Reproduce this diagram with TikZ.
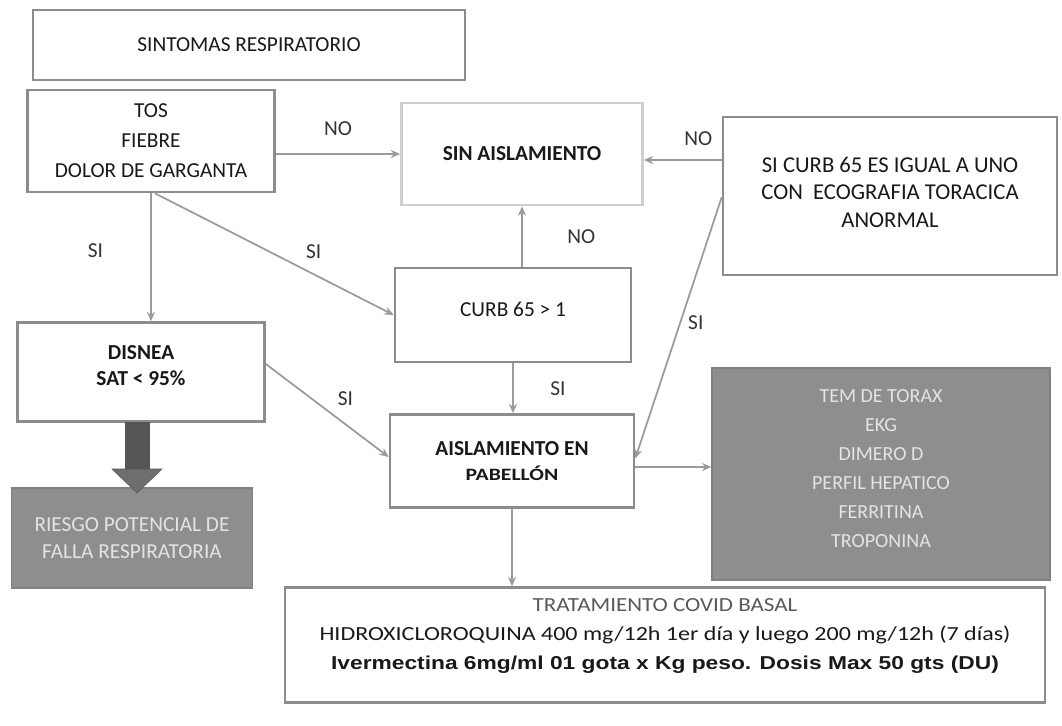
\documentclass[tikz,border=0pt]{standalone}
\usepackage{fontspec}
\setmainfont{Carlito}
\newfontfamily\arialfont{Liberation Sans}
\usetikzlibrary{arrows.meta,positioning}
\definecolor{bordegris}{HTML}{8C8C8C}
\definecolor{bordeclaro}{HTML}{CFCFCF}
\definecolor{rellenogris}{HTML}{8E8E8E}
\definecolor{textoclaro}{HTML}{E4E4E4}
\definecolor{lineagris}{HTML}{9A9A9A}
\definecolor{flechaosc}{HTML}{555555}
\begin{document}
\begin{tikzpicture}[x=0.75pt,y=-0.75pt,
    caja/.style={draw=bordegris,line width=2pt,fill=white,align=center,inner sep=0pt,
        text=black!90,font=\fontsize{16}{22.5}\selectfont},
    cajagris/.style={fill=rellenogris,draw=rellenogris!90!black,line width=1pt,align=center,
        inner sep=0pt,text=textoclaro,font=\fontsize{15}{21.75}\selectfont},
    flecha/.style={color=lineagris,line width=1.3pt,-{Stealth[length=7pt,width=6pt]}},
    etiqueta/.style={font=\fontsize{16}{20}\selectfont,text=black!80}]
\useasboundingbox (0,0) rectangle (1062,725);
% cajas
\node[caja,minimum width={432*0.75pt},minimum height={70*0.75pt}] (Titulo) at (249,45) {SINTOMAS RESPIRATORIO};
\node[caja,minimum width={247*0.75pt},minimum height={102*0.75pt}] (Tos) at (151,141) {TOS\\FIEBRE\\DOLOR DE GARGANTA};
\node[caja,draw=bordeclaro,minimum width={241*0.75pt},minimum height={102*0.75pt},font=\fontsize{16}{22}\selectfont\bfseries] (Sin) at (522,154) {SIN AISLAMIENTO};
\node[caja,minimum width={334*0.75pt},minimum height={158*0.75pt},font=\fontsize{17}{20.6}\selectfont] (SiCurb) at (890,196) {SI CURB 65 ES IGUAL A UNO\\CON\ \ ECOGRAFIA TORACICA\\ANORMAL\rule[-6pt]{0pt}{1pt}};
\node[caja,minimum width={236*0.75pt},minimum height={94*0.75pt}] (Curb) at (513,315) {CURB 65 > 1\rule[-8pt]{0pt}{1pt}};
\node[caja,minimum width={247*0.75pt},minimum height={99*0.75pt},font=\fontsize{16}{19}\selectfont\bfseries] (Disnea) at (141,372) {DISNEA\\SAT < 95\%\rule[-10pt]{0pt}{1pt}};
\node[cajagris,font=\fontsize{16}{20}\selectfont,minimum width={241*0.75pt},minimum height={100*0.75pt}] (Riesgo) at (132,538) {RIESGO POTENCIAL DE\\FALLA RESPIRATORIA};
\node[caja,minimum width={244*0.75pt},minimum height={93*0.75pt},font=\fontsize{16}{19}\selectfont\bfseries] (Aisl) at (512,461) {AISLAMIENTO EN\\{\fontsize{13}{19}\selectfont\scalebox{1.25}[1]{PABELLÓN}}};
\node[cajagris,minimum width={338*0.75pt},minimum height={212*0.75pt}] (Examenes) at (881,474) {TEM DE TORAX\\EKG\\DIMERO D\\PERFIL HEPATICO\\FERRITINA\\TROPONINA\rule[-8pt]{0pt}{1pt}};
\node[caja,minimum width={760*0.75pt},minimum height={115*0.75pt},font=\fontsize{15}{21.75}\selectfont] (Trat) at (665,645) {{\color{black!65}\scalebox{1.15}[1]{TRATAMIENTO COVID BASAL}}\\\scalebox{1.2}[1]{HIDROXICLOROQUINA 400 mg/12h 1er día y luego 200 mg/12h (7 días)}\\{\arialfont\bfseries\fontsize{14}{21.75}\selectfont\scalebox{1.22}[1]{Ivermectina 6mg/ml 01 gota x Kg peso. Dosis Max 50 gts (DU)}}\rule[-17pt]{0pt}{1pt}};
% flecha gruesa
\fill[flechaosc] (125,422) rectangle (150,470);
\filldraw[fill=flechaosc!85!white,draw=flechaosc] (112,469) -- (162,469) -- (137,493) -- cycle;
% conectores
\path[flecha] (Tos.east |- Sin.west) edge node[etiqueta,above=10pt] {NO} (Sin.west);
\path[flecha] (Tos.south) edge node[etiqueta,left=32pt,pos=0.45] {SI} (Tos.south |- Disnea.north);
\path[flecha] ([xshift=3pt]Tos.south) edge node[etiqueta,above right=2pt and 2pt,pos=0.6] {SI} (Curb.west);
\path[flecha] (Sin.south |- Curb.north) edge node[etiqueta,right=30pt] {NO} (Sin.south);
\path[flecha] ([yshift=-4.5pt]SiCurb.west |- Sin.east) edge node[etiqueta,above=7pt,pos=0.3] {NO} ([yshift=-4.5pt]Sin.east);
\path[flecha] (Curb.south) edge node[etiqueta,right=24pt] {SI} (Curb.south |- Aisl.north);
\path[flecha] ([yshift=6pt]Disnea.east) edge node[etiqueta,above right=0pt and 4pt] {SI} ([yshift=3pt]Aisl.west);
\path[flecha] ([yshift=-1pt]SiCurb.west) edge node[etiqueta,right=2pt,pos=0.48] {SI} ([yshift=2pt]Aisl.east);
\path[flecha] ([yshift=-4.5pt]Aisl.east) edge ([yshift=-4.5pt]Aisl.east -| Examenes.west);
\path[flecha] (Aisl.south) edge (Aisl.south |- Trat.north);
\end{tikzpicture}
\end{document}
